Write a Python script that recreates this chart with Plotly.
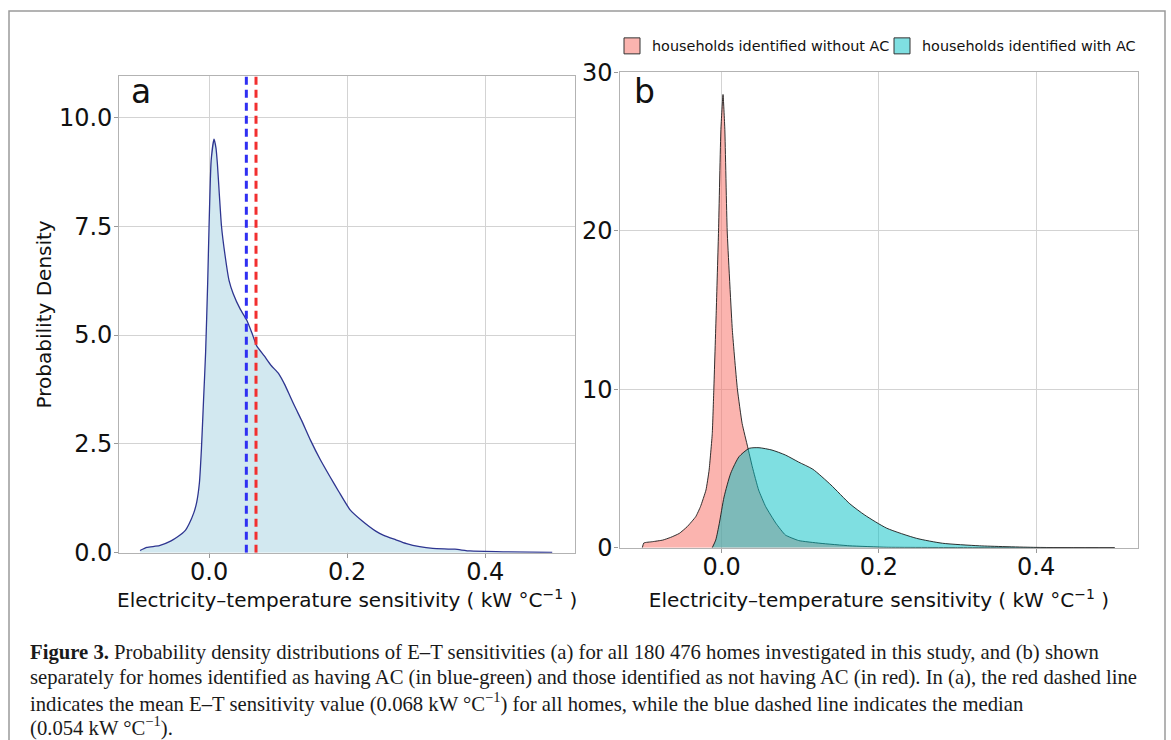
import plotly.graph_objects as go

# ---------------- data ----------------
# Panel a: density of E-T sensitivity for all homes
x_all = [-0.100, -0.090, -0.072, -0.055, -0.045, -0.035, -0.029, -0.022, -0.018, -0.014,
         -0.011, -0.008, -0.005, -0.002, 0.000, 0.003, 0.0072, 0.010, 0.012, 0.015,
         0.018, 0.023, 0.029, 0.035, 0.045, 0.055, 0.062, 0.069, 0.080, 0.090,
         0.101, 0.110, 0.118, 0.126, 0.134, 0.147, 0.161, 0.175, 0.188, 0.204,
         0.221, 0.242, 0.253, 0.270, 0.286, 0.305, 0.324, 0.356, 0.378, 0.430, 0.497]
y_all = [0.05, 0.12, 0.16, 0.27, 0.37, 0.50, 0.66, 0.92, 1.15, 1.60,
         2.40, 3.50, 4.60, 6.20, 7.50, 9.00, 9.50, 9.30, 8.95, 8.20,
         7.50, 6.85, 6.25, 5.95, 5.60, 5.33, 5.05, 4.75, 4.52, 4.30,
         4.11, 3.85, 3.57, 3.30, 3.04, 2.58, 2.14, 1.75, 1.40, 0.99,
         0.74, 0.49, 0.40, 0.30, 0.21, 0.14, 0.10, 0.08, 0.04, 0.02, 0.005]
median_val = 0.054
mean_val = 0.068

# Panel b: households identified without AC
x_noac = [-0.101, -0.099, -0.088, -0.075, -0.065, -0.054, -0.044, -0.033, -0.027, -0.020,
          -0.016, -0.012, -0.010, -0.007, -0.004, -0.001, 0.0017, 0.004, 0.007, 0.0136,
          0.020, 0.026, 0.033, 0.039, 0.047, 0.056, 0.069, 0.081, 0.098, 0.125,
          0.163, 0.210, 0.300, 0.400, 0.500]
y_noac = [0.0, 0.30, 0.38, 0.48, 0.65, 0.90, 1.32, 1.96, 2.59, 3.64,
          4.90, 7.20, 10.0, 14.8, 20.0, 26.4, 28.6, 26.4, 20.0, 13.7,
          10.0, 7.84, 6.37, 5.10, 3.64, 2.59, 1.54, 0.80, 0.45, 0.28,
          0.12, 0.03, 0.01, 0.0, 0.0]

# Panel b: households identified with AC
x_ac = [-0.012, -0.0076, -0.003, 0.003, 0.0115, 0.022, 0.035, 0.0475, 0.064, 0.081,
        0.098, 0.116, 0.139, 0.163, 0.182, 0.210, 0.248, 0.281, 0.328, 0.400, 0.500]
y_ac = [0.0, 0.48, 1.54, 3.20, 4.70, 5.74, 6.27, 6.31, 6.16, 5.85,
        5.40, 4.95, 3.96, 2.77, 2.06, 1.23, 0.59, 0.28, 0.12, 0.02, 0.0]

legend_names = ["households identified without AC", "households identified with AC"]
xticks = [0.0, 0.2, 0.4]
yticks_a = [0.0, 2.5, 5.0, 7.5, 10.0]
yticks_b = [0, 10, 20, 30]

caption_lines = [
    "<b>Figure 3.</b> Probability density distributions of E–T sensitivities (a) for all 180 476 homes investigated in this study, and (b) shown",
    "separately for homes identified as having AC (in blue-green) and those identified as not having AC (in red). In (a), the red dashed line",
    "indicates the mean E–T sensitivity value (0.068 kW °C<sup>−1</sup>) for all homes, while the blue dashed line indicates the median",
    "(0.054 kW °C<sup>−1</sup>).",
]
xtitle = "Electricity–temperature sensitivity ( kW °C<sup>−1</sup> )"

# ---------------- figure ----------------
W, H = 1171, 740
SANS = "DejaVu Sans"

def px_x(p):
    return p / W

def px_y(p):
    return 1 - p / H

fig = go.Figure()

# panel a
fig.add_trace(go.Scatter(x=x_all, y=y_all, mode="lines", fill="tozeroy",
                         fillcolor="#d2e8f0", line=dict(color="#2e3590", width=1.3, shape="spline", smoothing=0.5),
                         showlegend=False, xaxis="x", yaxis="y", hoverinfo="skip"))
fig.add_trace(go.Scatter(x=[median_val, median_val], y=[0, 11], mode="lines",
                         line=dict(color="#2f2ff2", width=3, dash="8px,5px"),
                         showlegend=False, xaxis="x", yaxis="y"))
fig.add_trace(go.Scatter(x=[mean_val, mean_val], y=[0, 11], mode="lines",
                         line=dict(color="#f22f2f", width=3, dash="8px,5px"),
                         showlegend=False, xaxis="x", yaxis="y"))

# panel b
fig.add_trace(go.Scatter(x=x_noac, y=y_noac, mode="lines", fill="tozeroy",
                         fillcolor="rgba(248,118,109,0.55)", line=dict(color="#1a1a1a", width=0.9, shape="spline", smoothing=0.4),
                         showlegend=False, xaxis="x2", yaxis="y2", hoverinfo="skip"))
fig.add_trace(go.Scatter(x=x_ac, y=y_ac, mode="lines", fill="tozeroy",
                         fillcolor="rgba(0,191,196,0.5)", line=dict(color="#1a1a1a", width=0.9, shape="spline", smoothing=0.6),
                         showlegend=False, xaxis="x2", yaxis="y2", hoverinfo="skip"))

# legend entries
for name, col in zip(legend_names, ["rgba(248,118,109,0.55)", "rgba(0,191,196,0.5)"]):
    fig.add_trace(go.Scatter(x=[None], y=[None], mode="markers", name=name,
                             marker=dict(symbol="square", size=16, color=col,
                                         line=dict(color="#333333", width=1)),
                             xaxis="x2", yaxis="y2"))

grid = "#d3d3d3"
border = "#b3b3b3"
tickfont = dict(family=SANS, size=24, color="#111111")

common = dict(showgrid=True, gridcolor=grid, gridwidth=1, zeroline=False,
              showline=True, linecolor=border, linewidth=1.2, mirror=True,
              ticks="outside", ticklen=4, tickcolor="#999999", tickfont=tickfont,
              automargin=False)

fig.update_layout(
    width=W, height=H, autosize=False,
    margin=dict(l=0, r=0, t=0, b=0, pad=0),
    paper_bgcolor="white", plot_bgcolor="white",
    font=dict(family=SANS, color="#111111"),
    xaxis=dict(domain=[px_x(119.3), px_x(575)], range=[-0.13, 0.53], anchor="y",
               tickvals=xticks, tickformat=".1f", ticklabelstandoff=-7,
               title=dict(text=xtitle, font=dict(family=SANS, size=20, color="#111111"), standoff=4),
               **common),
    yaxis=dict(domain=[px_y(552.7), px_y(76)], range=[0, 10.95], anchor="x",
               tickvals=yticks_a, tickformat=".1f", ticklabelstandoff=-3,
               title=dict(text="Probability Density", font=dict(family=SANS, size=20, color="#111111"), standoff=1),
               **common),
    xaxis2=dict(domain=[px_x(619.5), px_x(1138.3)], range=[-0.13, 0.53], anchor="y2",
                tickvals=xticks, tickformat=".1f", ticklabelstandoff=-7,
                title=dict(text=xtitle, font=dict(family=SANS, size=20, color="#111111"), standoff=13),
                **common),
    yaxis2=dict(domain=[px_y(547.7), px_y(72.3)], range=[0, 30], anchor="x2",
                tickvals=yticks_b, tickformat="d", ticklabelstandoff=-3,
                **common),
    legend=dict(orientation="h", x=px_x(612), y=px_y(30), xanchor="left", yanchor="top",
                font=dict(family=SANS, size=14.4, color="#111111"), entrywidth=225,
                bgcolor="rgba(0,0,0,0)", itemclick=False, tracegroupgap=0),
    showlegend=True,
)

# panel letters
fig.add_annotation(text="a", xref="paper", yref="paper", x=px_x(129), y=px_y(113),
                   xanchor="left", yanchor="bottom", showarrow=False,
                   font=dict(family=SANS, size=33, color="#111111"))
fig.add_annotation(text="b", xref="paper", yref="paper", x=px_x(632), y=px_y(113),
                   xanchor="left", yanchor="bottom", showarrow=False,
                   font=dict(family=SANS, size=33, color="#111111"))

# caption
cap_y = [652, 677, 702, 726]
for line, yy in zip(caption_lines, cap_y):
    fig.add_annotation(text=line, xref="paper", yref="paper", x=px_x(28), y=px_y(yy),
                       xanchor="left", yanchor="middle", showarrow=False, align="left",
                       font=dict(family="Liberation Serif", size=20.7, color="#1a1a1a"))

# outer frame
fig.add_shape(type="rect", xref="paper", yref="paper",
              x0=px_x(9), x1=px_x(1165), y0=-0.02, y1=px_y(11),
              line=dict(color="#9a9a9a", width=1.5), fillcolor="rgba(0,0,0,0)", layer="below")

fig.write_html("out.html", config={"displayModeBar": False},
               post_script="document.body.style.margin='0px';")
